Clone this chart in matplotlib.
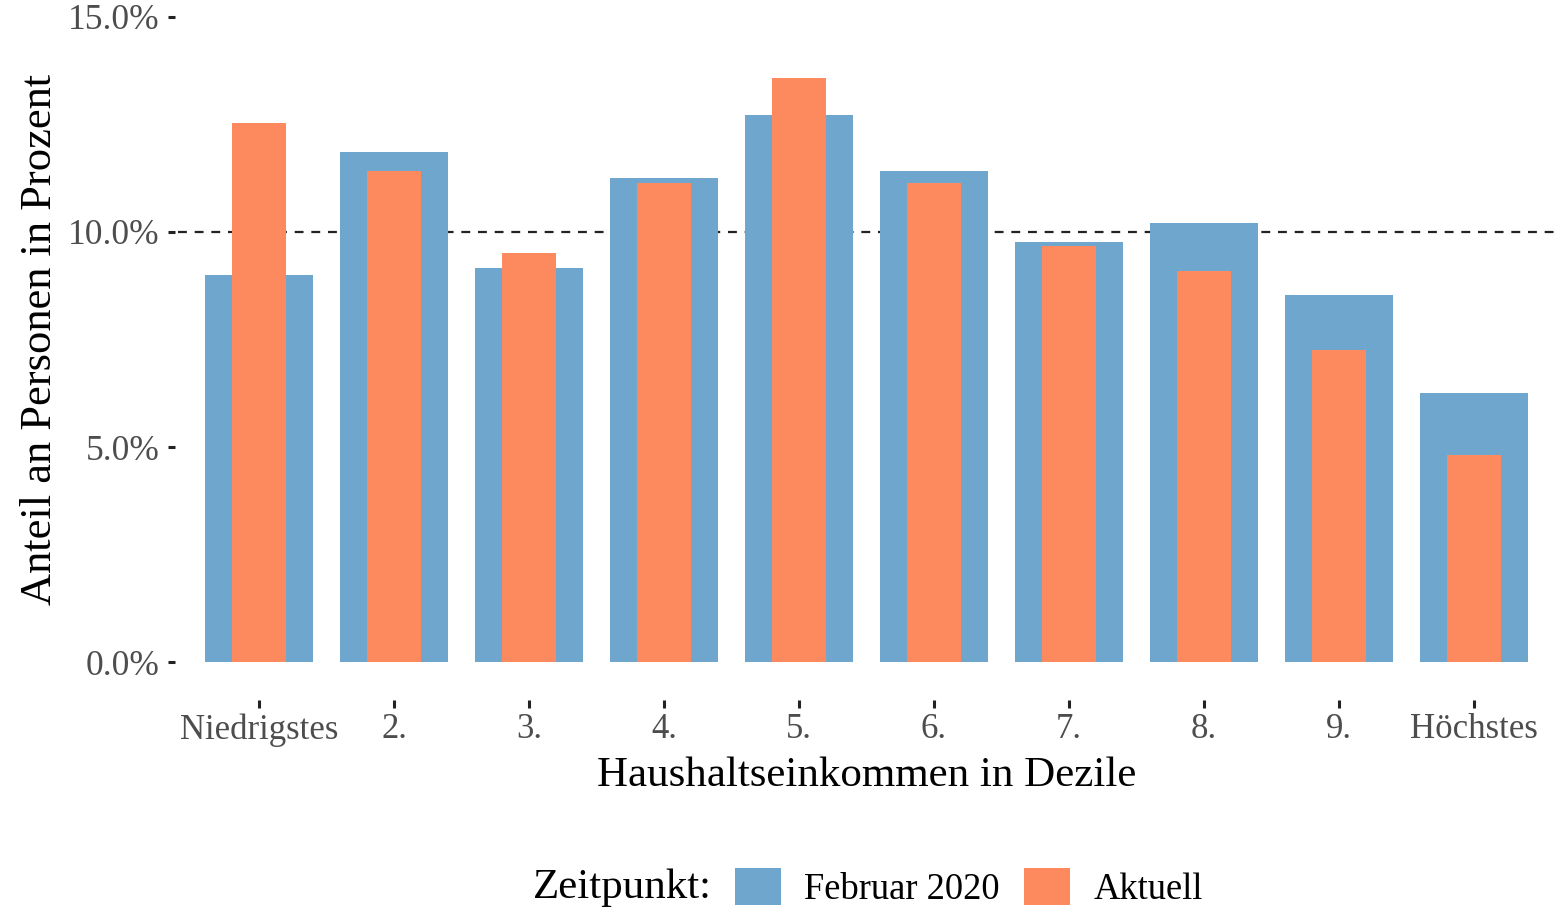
import matplotlib
matplotlib.use("Agg")
import matplotlib.pyplot as plt
from matplotlib.patches import Patch
import numpy as np

categories = ["Niedrigstes", "2.", "3.", "4.", "5.", "6.", "7.", "8.", "9.", "Höchstes"]
februar_2020 = [9.0, 11.86, 9.16, 11.26, 12.72, 11.42, 9.77, 10.21, 8.53, 6.26]
aktuell = [12.53, 11.42, 9.51, 11.14, 13.58, 11.14, 9.67, 9.09, 7.26, 4.81]
yticks = [0, 5, 10, 15]
ytick_labels = ["0.0%", "5.0%", "10.0%", "15.0%"]
reference_line = 10.0

blue = "#6FA6CE"
orange = "#FC8A5E"
plt.rcParams["font.family"] = ["Liberation Serif", "DejaVu Serif"]

fig = plt.figure(figsize=(15.64, 9.13), dpi=100)
ax = fig.add_axes([0.1138, 0.2749, 0.9942 - 0.1138, 0.9814 - 0.2749])

x = np.arange(len(categories))
ax.bar(x, februar_2020, width=0.8, color=blue, zorder=2)
ax.bar(x, aktuell, width=0.4, color=orange, zorder=3)
ax.axhline(reference_line, color="#222222", linestyle=(0, (4, 3.5)), linewidth=1.6, zorder=1)

ax.set_xlim(-0.6, len(categories) - 0.4)
ax.set_ylim(0, 15)
ax.set_xticks(x)
ax.set_xticklabels(categories)
ax.set_yticks(yticks)
ax.set_yticklabels(ytick_labels)

for s in ax.spines.values():
    s.set_visible(False)
ax.spines["bottom"].set_position(("outward", 27))
ax.spines["left"].set_position(("outward", 2))

ax.tick_params(axis="x", direction="out", length=6, width=2.2, color="#222222",
               labelsize=25, labelcolor="#4D4D4D", pad=4)
ax.tick_params(axis="y", direction="out", length=5, width=2.2, color="#222222",
               labelsize=25.5, labelcolor="#4D4D4D", pad=6)

ax.set_xlabel("Haushaltseinkommen in Dezile", fontsize=31, color="black", labelpad=7)
ax.set_ylabel("Anteil an Personen in Prozent", fontsize=32, color="black", labelpad=6)

fig.text(0.4555, 0.028, "Zeitpunkt:", fontsize=31, ha="right", va="center")
handles = [Patch(facecolor=blue, label="Februar 2020"), Patch(facecolor=orange, label="Aktuell")]
fig.legend(handles=handles, loc="center left", bbox_to_anchor=(0.47, 0.028), ncol=2,
           frameon=False, fontsize=26.3, handlelength=1.25, handleheight=1.2,
           handletextpad=0.64, columnspacing=0.67, borderaxespad=0, borderpad=0)

fig.savefig("out.png", dpi=100)
